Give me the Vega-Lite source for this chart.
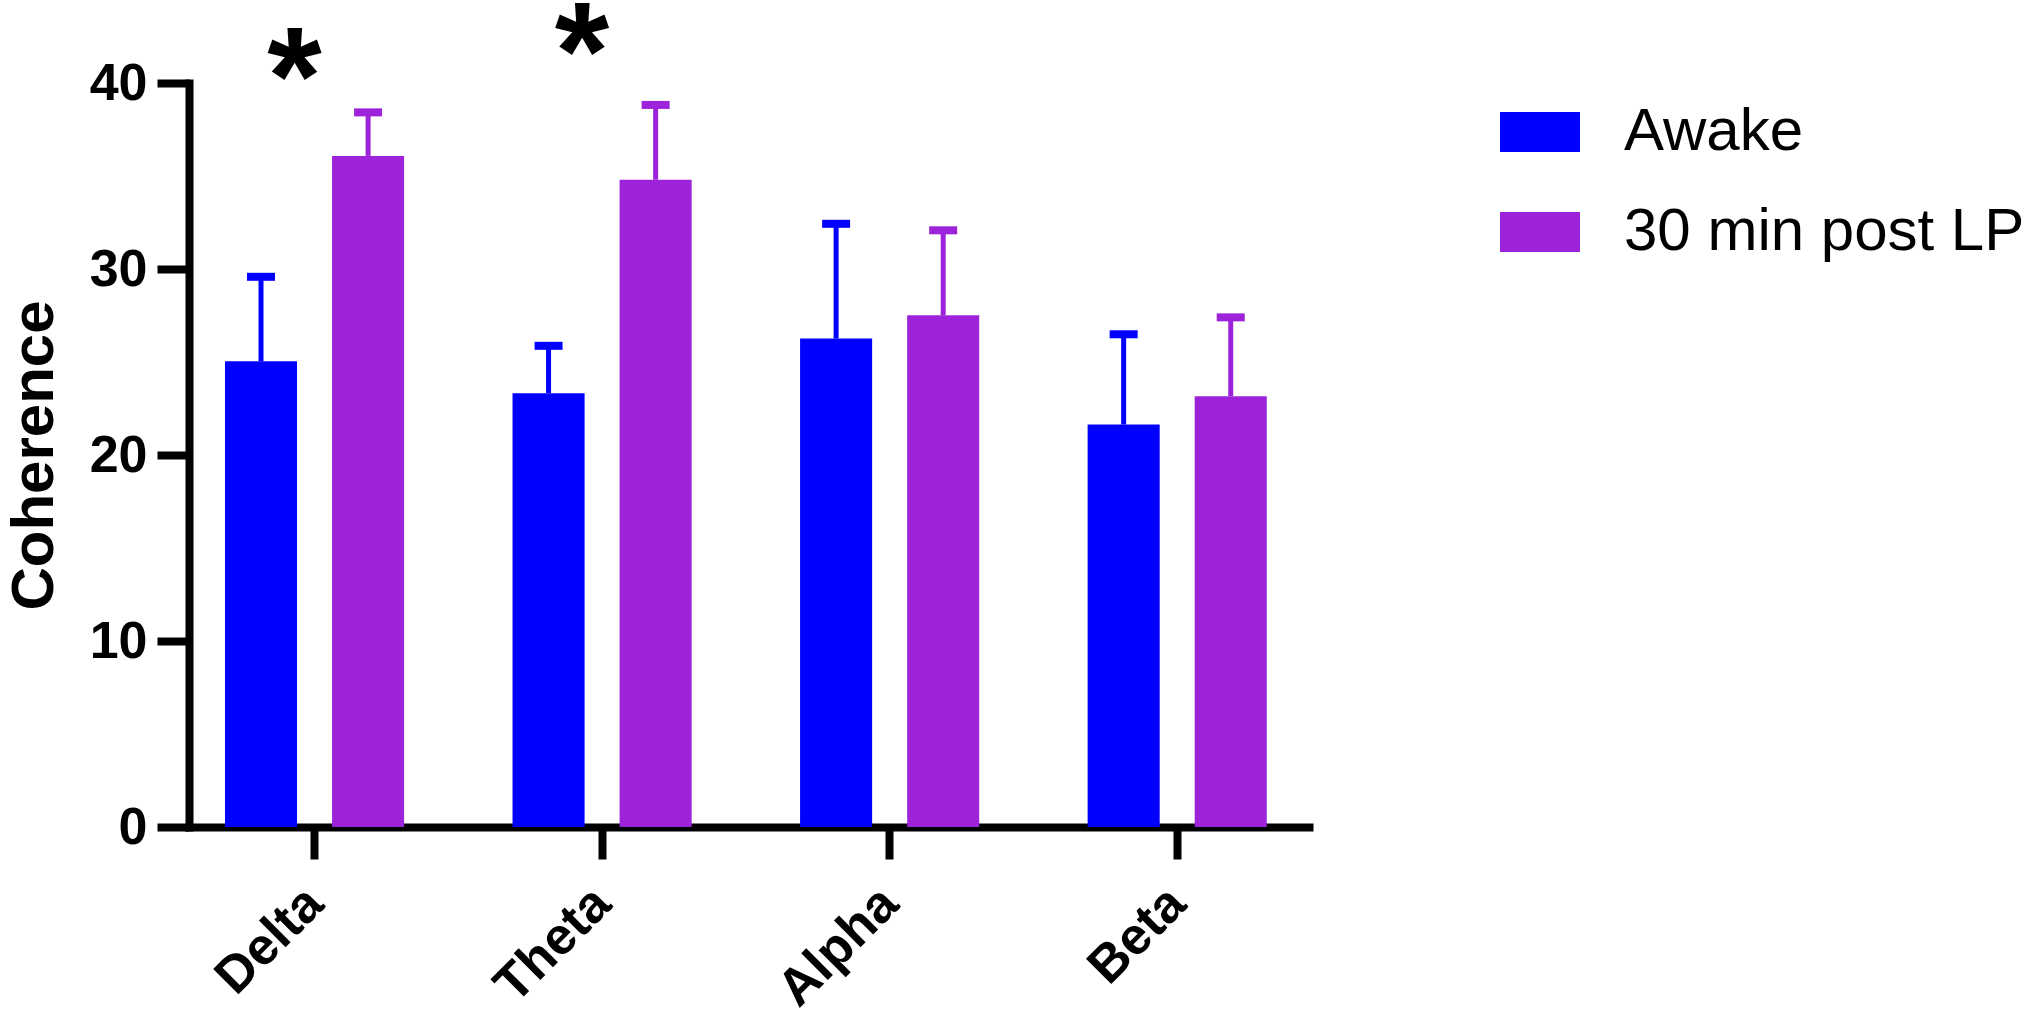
{
  "$schema": "https://vega.github.io/schema/vega-lite/v6.json",
  "width": 1120,
  "height": 744,
  "autosize": {"type": "none"},
  "padding": {"left": 189, "top": 83, "right": 731, "bottom": 198},
  "background": "white",
  "datasets": {
    "bars": [
      {"band": "Delta", "cond": "Awake", "mean": 25.04, "upper": 29.58},
      {"band": "Delta", "cond": "30 min post LP", "mean": 36.08, "upper": 38.42},
      {"band": "Theta", "cond": "Awake", "mean": 23.32, "upper": 25.87},
      {"band": "Theta", "cond": "30 min post LP", "mean": 34.8, "upper": 38.82},
      {"band": "Alpha", "cond": "Awake", "mean": 26.26, "upper": 32.43},
      {"band": "Alpha", "cond": "30 min post LP", "mean": 27.51, "upper": 32.08},
      {"band": "Beta", "cond": "Awake", "mean": 21.64, "upper": 26.49},
      {"band": "Beta", "cond": "30 min post LP", "mean": 23.16, "upper": 27.4}
    ],
    "stars": [
      {"band": "Delta", "label": "*", "pos": 37.8},
      {"band": "Theta", "label": "*", "pos": 39.15}
    ]
  },
  "config": {
    "view": {"stroke": null},
    "font": "Liberation Sans",
    "axis": {
      "grid": false,
      "domainColor": "black",
      "domainWidth": 8,
      "domainCap": "square",
      "tickColor": "black",
      "tickWidth": 8,
      "tickSize": 32,
      "labelColor": "black",
      "labelFont": "Liberation Sans",
      "labelFontWeight": "bold",
      "titleColor": "black",
      "titleFont": "Liberation Sans",
      "titleFontWeight": "bold"
    }
  },
  "encoding": {
    "x": {
      "field": "band",
      "type": "nominal",
      "sort": ["Delta", "Theta", "Alpha", "Beta"],
      "scale": {"type": "band", "paddingInner": 0.377, "paddingOuter": 0.136, "align": 0.46},
      "axis": {
        "title": null,
        "labelAngle": -45,
        "labelAlign": "right",
        "labelBaseline": "middle",
        "labelFontSize": 52,
        "labelPadding": 36
      }
    }
  },
  "layer": [
    {
      "data": {"name": "bars"},
      "mark": {"type": "bar", "opacity": 1},
      "encoding": {
        "xOffset": {"field": "cond", "type": "nominal", "sort": ["Awake", "30 min post LP"], "scale": {"paddingInner": 0.327, "paddingOuter": 0}},
        "y": {
          "field": "mean",
          "type": "quantitative",
          "scale": {"domain": [0, 40], "nice": false},
          "axis": {
            "title": "Coherence",
            "titleFontSize": 60,
            "titlePadding": 24,
            "values": [0, 10, 20, 30, 40],
            "labelFontSize": 52,
            "labelPadding": 10
          }
        },
        "color": {
          "field": "cond",
          "type": "nominal",
          "sort": ["Awake", "30 min post LP"],
          "scale": {"domain": ["Awake", "30 min post LP"], "range": ["#0000FF", "#9C23DA"]},
          "legend": {
            "title": null,
            "orient": "none",
            "legendX": 1311,
            "legendY": 9,
            "symbolType": "M-1,-0.5H1V0.5H-1Z",
            "symbolSize": 6400,
            "symbolStrokeWidth": 0,
            "symbolOpacity": 1,
            "labelFontSize": 60,
            "labelFont": "Liberation Sans",
            "labelFontWeight": "normal",
            "labelColor": "black",
            "labelOffset": 44,
            "rowPadding": 30,
            "labelLimit": 800
          }
        }
      }
    },
    {
      "data": {"name": "bars"},
      "mark": {"type": "rule", "strokeWidth": 5, "opacity": 1},
      "encoding": {
        "xOffset": {"field": "cond", "type": "nominal", "sort": ["Awake", "30 min post LP"]},
        "y": {"field": "mean", "type": "quantitative"},
        "y2": {"field": "upper"},
        "color": {"field": "cond", "type": "nominal", "legend": null}
      }
    },
    {
      "data": {"name": "bars"},
      "mark": {"type": "tick", "thickness": 8, "size": 28, "orient": "horizontal", "opacity": 1},
      "encoding": {
        "xOffset": {"field": "cond", "type": "nominal", "sort": ["Awake", "30 min post LP"]},
        "y": {"field": "upper", "type": "quantitative"},
        "color": {"field": "cond", "type": "nominal", "legend": null}
      }
    },
    {
      "data": {"name": "stars"},
      "mark": {"type": "text", "fontSize": 140, "fontWeight": "bold", "font": "Liberation Sans", "baseline": "alphabetic", "align": "center", "dx": -20, "color": "black"},
      "encoding": {
        "y": {"field": "pos", "type": "quantitative"},
        "text": {"field": "label"}
      }
    }
  ]
}
